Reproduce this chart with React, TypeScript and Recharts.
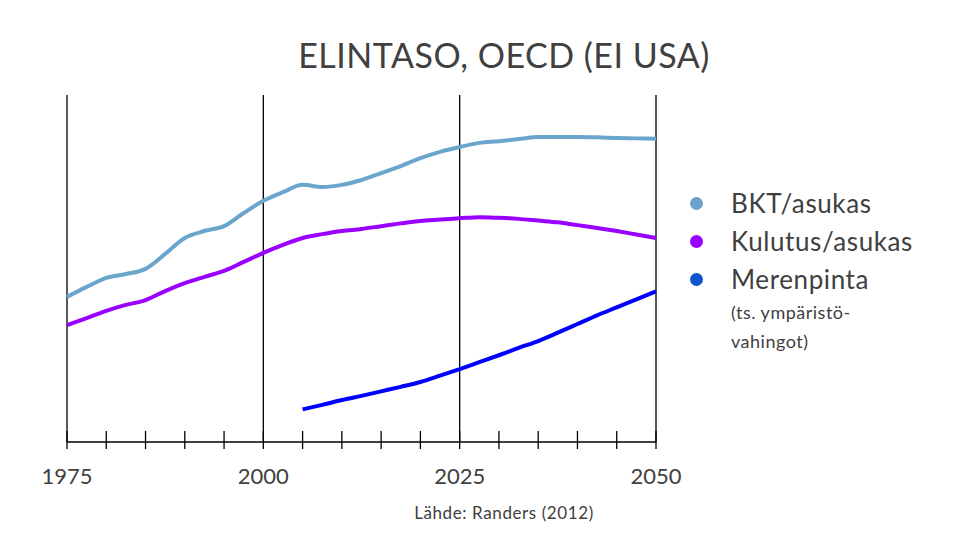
import { LineChart, Line, XAxis, YAxis, ReferenceLine } from "recharts";

// vuodet 2.5 vuoden välein, indeksi 0-100 (ei y-akselia kuvassa)
const years = [
  1975, 1977.5, 1980, 1982.5, 1985, 1987.5, 1990, 1992.5, 1995, 1997.5, 2000,
  2002.5, 2005, 2007.5, 2010, 2012.5, 2015, 2017.5, 2020, 2022.5, 2025, 2027.5,
  2030, 2032.5, 2035, 2037.5, 2040, 2042.5, 2045, 2047.5, 2050,
];

const bkt = [
  41.8, 44.7, 47.3, 48.4, 49.9, 54.2, 58.8, 60.8, 62.2, 66.0, 69.5, 72.0, 74.1,
  73.5, 74.1, 75.5, 77.5, 79.5, 81.8, 83.6, 85.0, 86.2, 86.7, 87.3, 87.9, 87.9,
  87.9, 87.8, 87.6, 87.5, 87.4,
];

const kulutus = [
  33.7, 35.7, 37.8, 39.5, 40.9, 43.5, 45.8, 47.6, 49.3, 51.9, 54.5, 56.8, 58.8,
  59.9, 60.8, 61.4, 62.2, 63.0, 63.7, 64.1, 64.5, 64.8, 64.6, 64.3, 63.8, 63.3,
  62.5, 61.7, 60.8, 59.8, 58.8,
];

// merenpinta alkaa vasta 2005
const merenpinta = [
  null, null, null, null, null, null, null, null, null, null, null, null, 9.4,
  10.7, 12.1, 13.3, 14.6, 15.9, 17.3, 19.1, 21.0, 23.0, 25.0, 27.1, 29.1, 31.5,
  34.0, 36.5, 38.8, 41.1, 43.4,
];

const tickYears = [
  1975, 1980, 1985, 1990, 1995, 2000, 2005, 2010, 2015, 2020, 2025, 2030, 2035,
  2040, 2045, 2050,
];
const labelYears = [1975, 2000, 2025, 2050];

const legendItems = [
  { name: "BKT/asukas", dot: "#6aa4cc" },
  { name: "Kulutus/asukas", dot: "#9900ff" },
  { name: "Merenpinta", dot: "#1155cc" },
];

const data = years.map((y, i) => ({
  year: y,
  bkt: bkt[i],
  kulutus: kulutus[i],
  merenpinta: merenpinta[i],
}));

const FONT = "Lato, 'Open Sans', sans-serif";
const TEXT = "#404040";

function YearTick(props: any) {
  const { x, y, payload } = props;
  const showLabel = labelYears.includes(payload.value);
  return (
    <g>
      <line x1={x} x2={x} y1={y - 11} y2={y + 7} stroke="#000" strokeWidth={1.3} />
      {showLabel && (
        <text
          x={x}
          y={y + 42}
          textAnchor="middle"
          fill={TEXT}
          fontSize={22}
          fontFamily={FONT}
        >
          {payload.value}
        </text>
      )}
    </g>
  );
}

function LegendBox() {
  return (
    <div
      style={{
        position: "absolute",
        left: 690,
        top: 184,
        fontFamily: FONT,
        color: TEXT,
      }}
    >
      {legendItems.map((item) => (
        <div
          key={item.name}
          style={{ display: "flex", alignItems: "center", height: 38 }}
        >
          <span
            style={{
              width: 13,
              height: 13,
              borderRadius: "50%",
              background: item.dot,
              marginRight: 28,
              display: "inline-block",
            }}
          />
          <span style={{ fontSize: 26, letterSpacing: 0.6 }}>{item.name}</span>
        </div>
      ))}
      <div
        style={{
          marginLeft: 41,
          fontSize: 18,
          lineHeight: "29px",
          letterSpacing: 0.5,
        }}
      >
        (ts. ympäristö-
        <br />
        vahingot)
      </div>
    </div>
  );
}

export default function App() {
  return (
    <div style={{ position: "relative", width: 960, height: 540, background: "#fff" }}>
      <style>{`body{margin:0}`}</style>
      <div
        style={{
          position: "absolute",
          left: 0,
          width: 1008,
          top: 34,
          textAlign: "center",
          fontFamily: FONT,
          fontSize: 34,
          letterSpacing: 0.5,
          color: TEXT,
        }}
      >
        ELINTASO, OECD (EI USA)
      </div>
      <LineChart
        width={960}
        height={540}
        data={data}
        margin={{ top: 95, right: 304, bottom: 68, left: 67 }}
      >
        <XAxis
          dataKey="year"
          type="number"
          domain={[1975, 2050]}
          ticks={tickYears}
          interval={0}
          height={30}
          tickSize={0}
          tickMargin={0}
          tickLine={false}
          axisLine={{ stroke: "#000", strokeWidth: 1.5 }}
          tick={<YearTick />}
        />
        <YAxis hide domain={[0, 100]} />
        {labelYears.map((y) => (
          <ReferenceLine key={y} x={y} stroke="#000" strokeWidth={1.3} />
        ))}
        <Line
          dataKey="bkt"
          type="monotone"
          stroke="#6aa6cc"
          strokeWidth={4}
          dot={false}
          isAnimationActive={false}
        />
        <Line
          dataKey="kulutus"
          type="monotone"
          stroke="#9900ff"
          strokeWidth={4}
          dot={false}
          isAnimationActive={false}
        />
        <Line
          dataKey="merenpinta"
          type="monotone"
          stroke="#0000ff"
          strokeWidth={4}
          dot={false}
          isAnimationActive={false}
        />
      </LineChart>
      <LegendBox />
      <div
        style={{
          position: "absolute",
          left: 0,
          width: 1008,
          top: 502,
          textAlign: "center",
          fontFamily: FONT,
          fontSize: 17,
          letterSpacing: 0.6,
          color: TEXT,
        }}
      >
        Lähde: Randers (2012)
      </div>
    </div>
  );
}
